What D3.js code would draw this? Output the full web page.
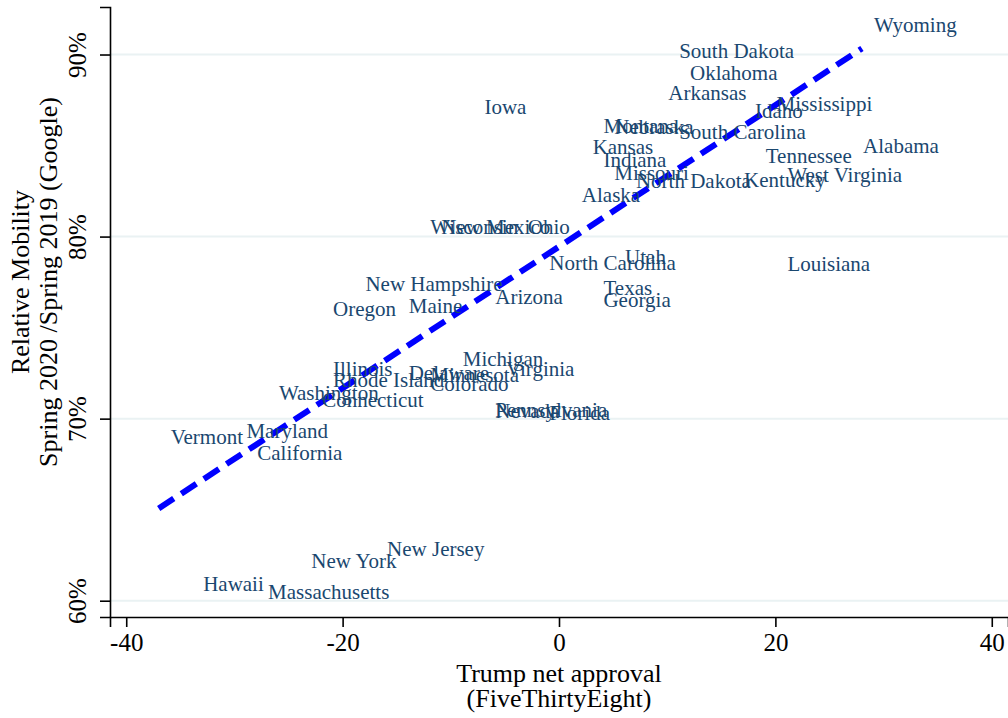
<!DOCTYPE html>
<html>
<head>
<meta charset="utf-8">
<script src="https://cdn.jsdelivr.net/npm/d3@7"></script>
<style>
  body { margin: 0; background: #fff; }
  text { font-family: "Liberation Serif", "Times New Roman", serif; }
</style>
</head>
<body>
<svg id="svg1" width="1008" height="718"></svg>
<script>
// states, Trump net approval, relative mobility (%)
var states = ["Wyoming","South Dakota","Oklahoma","Arkansas","Mississippi","Idaho","Iowa","Montana","Nebraska","South Carolina",
  "Kansas","Alabama","Indiana","Tennessee","Missouri","North Dakota","West Virginia","Kentucky","Alaska","Wisconsin",
  "New Mexico","Ohio","Utah","North Carolina","Louisiana","New Hampshire","Texas","Arizona","Georgia","Oregon",
  "Maine","Michigan","Virginia","Illinois","Delaware","Minnesota","Rhode Island","Colorado","Washington","Connecticut",
  "Pennsylvania","Nevada","Florida","Vermont","Maryland","California","New Jersey","New York","Hawaii","Massachusetts"];
var approval = [28,10,11,9,19,17,-8,3,4,10,
  2,27,3,18,4,6,20,16,1,-13,
  -12,-4,5,-2,20,-19,3,-7,3,-22,
  -15,-10,-6,-22,-15,-13,-22,-13,-27,-23,
  -7,-7,-2,-37,-30,-29,-17,-24,-34,-28];
var mobility = [91.6,90.2,89.0,87.9,87.3,86.9,87.1,86.1,86.0,85.75,
  84.9,85.0,84.2,84.4,83.5,83.06,83.4,83.1,82.3,80.55,
  80.55,80.5,78.9,78.55,78.5,77.4,77.2,76.7,76.5,76.0,
  76.2,73.3,72.75,72.7,72.5,72.4,72.1,71.9,71.4,71.0,
  70.5,70.4,70.3,69.0,69.3,68.1,62.84,62.2,60.9,60.5];
var xTicks = [-40,-20,0,20,40];
var yTicks = [60,70,80,90];

var data = states.map(function(s, i) { return {state: s, x: approval[i], y: mobility[i]}; });

var svg = d3.select("#svg1"),
    margin = {top: 7, right: 0, bottom: 101, left: 110},
    width = +svg.attr("width") - margin.left - margin.right,
    height = +svg.attr("height") - margin.top - margin.bottom;

var x = d3.scaleLinear().domain([-41.5, 41.5]).range([margin.left, margin.left + width]);
var y = d3.scaleLinear().domain([59.105, 92.61]).range([margin.top + height, margin.top]);

// grid lines
svg.append("g").selectAll("line")
    .data(yTicks)
  .enter().append("line")
    .attr("x1", margin.left).attr("x2", margin.left + width)
    .attr("y1", function(d) { return y(d); }).attr("y2", function(d) { return y(d); })
    .attr("stroke", "#eaf2f3").attr("stroke-width", 2);

// x axis
var gx = svg.append("g")
    .attr("transform", "translate(0," + (margin.top + height) + ")")
    .call(d3.axisBottom(x).tickValues(xTicks).tickSize(10).tickPadding(6).tickFormat(function(d) { return String(d); }));
gx.select(".domain").attr("stroke", "#000").attr("stroke-width", 1.6);
gx.selectAll(".tick line").attr("stroke", "#000").attr("stroke-width", 1.6);
gx.selectAll(".tick text").attr("font-size", 25).attr("fill", "#000")
    .attr("font-family", "Liberation Serif, Times New Roman, serif");

// y axis
var gy = svg.append("g")
    .attr("transform", "translate(" + margin.left + ",0)")
    .call(d3.axisLeft(y).tickValues(yTicks).tickSize(10).tickFormat(function(d) { return d + "%"; }));
gy.select(".domain").attr("stroke", "#000").attr("stroke-width", 1.6);
gy.selectAll(".tick line").attr("stroke", "#000").attr("stroke-width", 1.6);
gy.selectAll(".tick text")
    .attr("font-size", 25).attr("fill", "#000")
    .attr("font-family", "Liberation Serif, Times New Roman, serif")
    .attr("x", null).attr("dy", null)
    .attr("text-anchor", "middle")
    .attr("transform", "translate(-24,0) rotate(-90)");

// linear fit
var mx = d3.mean(data, function(d) { return d.x; }),
    my = d3.mean(data, function(d) { return d.y; });
var sxy = d3.sum(data, function(d) { return (d.x - mx) * (d.y - my); }),
    sxx = d3.sum(data, function(d) { return (d.x - mx) * (d.x - mx); });
var slope = sxy / sxx, icpt = my - slope * mx;
var ext = d3.extent(data, function(d) { return d.x; });
var fit = ext.map(function(v) { return {x: v, y: icpt + slope * v}; });

svg.append("path")
    .datum(fit)
    .attr("fill", "none")
    .attr("stroke", "#0000ff")
    .attr("stroke-width", 6)
    .attr("stroke-dasharray", "18,9")
    .attr("d", d3.line().x(function(d) { return x(d.x); }).y(function(d) { return y(d.y); }));

// state labels
svg.append("g").selectAll(".lbl")
    .data(data)
  .enter().append("text")
    .attr("class", "lbl")
    .attr("x", function(d) { return x(d.x) + 12; })
    .attr("y", function(d) { return y(d.y) + 7; })
    .attr("font-size", 21)
    .attr("fill", "#1a476f")
    .text(function(d) { return d.state; });

// axis titles
svg.append("text").attr("x", 559).attr("y", 682).attr("text-anchor", "middle")
    .attr("font-size", 26).text("Trump net approval");
svg.append("text").attr("x", 559).attr("y", 707).attr("text-anchor", "middle")
    .attr("font-size", 26).text("(FiveThirtyEight)");
svg.append("text").attr("transform", "translate(29,282) rotate(-90)").attr("text-anchor", "middle")
    .attr("font-size", 26).text("Relative Mobility");
svg.append("text").attr("transform", "translate(57,282) rotate(-90)").attr("text-anchor", "middle")
    .attr("font-size", 26).text("Spring 2020 /Spring 2019 (Google)");
</script>
</body>
</html>
